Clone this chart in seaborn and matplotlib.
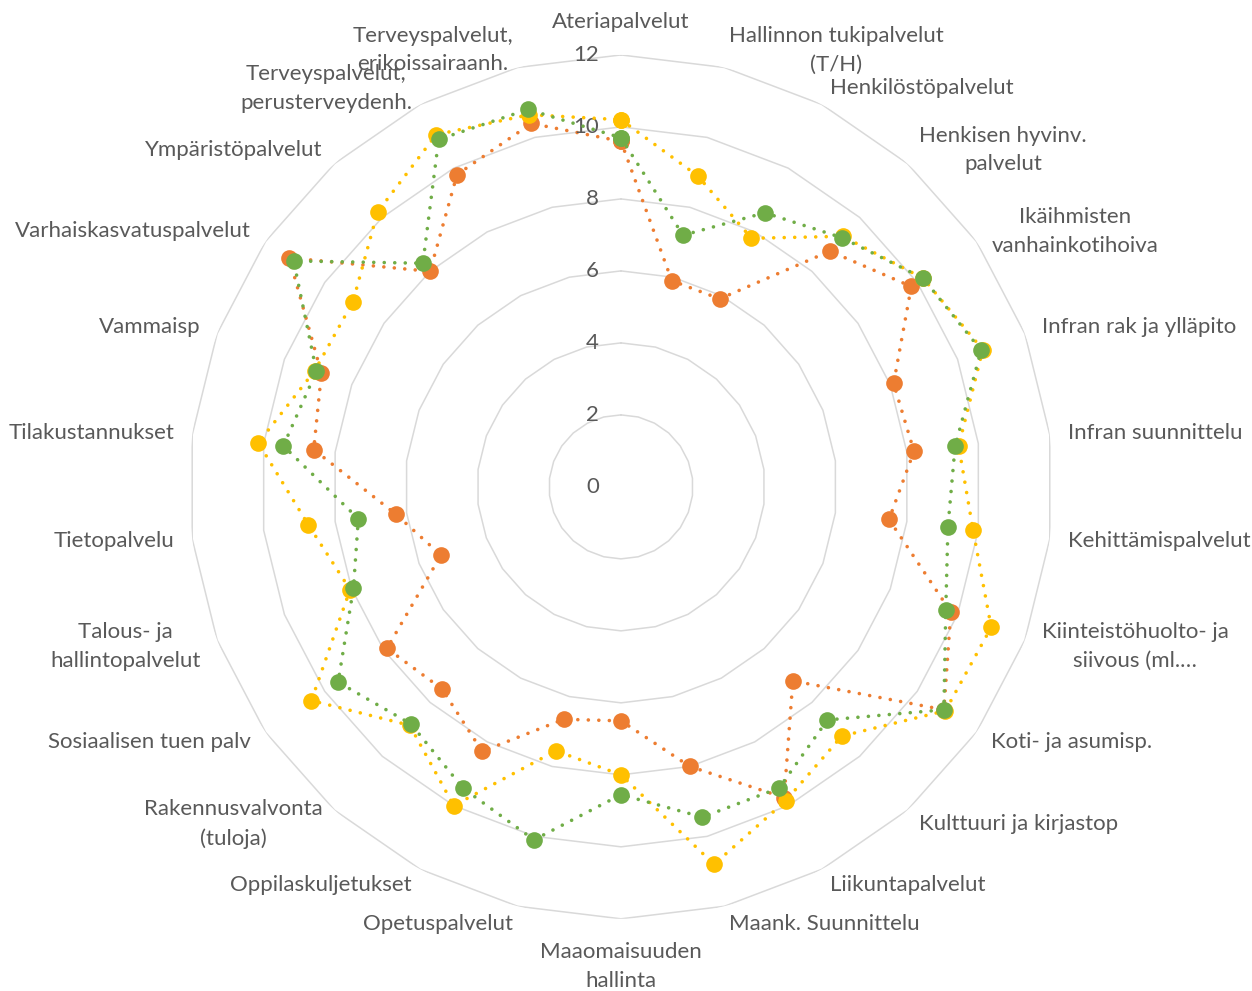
import numpy as np
import pandas as pd
import matplotlib
matplotlib.use('Agg')
import matplotlib.pyplot as plt
import seaborn as sns
from matplotlib.transforms import offset_copy

# categories clockwise from the top
categories = [
    'Ateriapalvelut', 'Hallinnon tukipalvelut\n(T/H)', 'Henkilöstöpalvelut',
    'Henkisen hyvinv.\npalvelut', 'Ikäihmisten\nvanhainkotihoiva',
    'Infran rak ja ylläpito', 'Infran suunnittelu', 'Kehittämispalvelut',
    'Kiinteistöhuolto- ja\nsiivous (ml.…', 'Koti- ja asumisp.',
    'Kulttuuri ja kirjastop', 'Liikuntapalvelut', 'Maank. Suunnittelu',
    'Maaomaisuuden\nhallinta', 'Opetuspalvelut', 'Oppilaskuljetukset',
    'Rakennusvalvonta\n(tuloja)', 'Sosiaalisen tuen palv',
    'Talous- ja\nhallintopalvelut', 'Tietopalvelu', 'Tilakustannukset',
    'Vammaisp', 'Varhaiskasvatuspalvelut', 'Ympäristöpalvelut',
    'Terveyspalvelut,\nperusterveydenh.', 'Terveyspalvelut,\nerikoissairaanh.',
]

orange_vals = [9.6, 5.9, 5.9, 8.75, 9.8, 8.1, 8.2, 7.5, 9.8, 10.9, 7.2, 9.75, 8.0,
               6.5, 6.65, 8.3, 7.5, 7.9, 5.35, 6.3, 8.6, 8.9, 11.2, 8.0, 9.8, 10.4]
yellow_vals = [10.2, 8.9, 7.8, 9.3, 10.2, 10.75, 9.45, 9.85, 11.0, 10.95, 9.25, 9.85, 10.8,
               8.0, 7.55, 10.0, 8.85, 10.45, 8.05, 8.75, 10.15, 9.1, 9.05, 10.2, 11.05, 10.65]
green_vals = [9.7, 7.2, 8.6, 9.25, 10.2, 10.7, 9.35, 9.15, 9.65, 10.9, 8.65, 9.45, 9.45,
              8.55, 10.1, 9.45, 8.8, 9.55, 7.95, 7.35, 9.45, 9.05, 11.05, 8.3, 10.9, 10.8]

ring_ticks = [0, 2, 4, 6, 8, 10, 12]

series = [('orange', orange_vals, '#ED7D31'),
          ('yellow', yellow_vals, '#FFC000'),
          ('green', green_vals, '#70AD47')]

sns.set_style('white')
plt.rcParams['font.family'] = ['Lato', 'DejaVu Sans']
text_color = '#595959'
fs = 16

fig = plt.figure(figsize=(12.52, 9.91), dpi=100)
ax = fig.add_axes([0.151, 0.0727, 0.690, 0.872], projection='polar')
ax.set_theta_zero_location('N')
ax.set_theta_direction(-1)

n = len(categories)
theta = np.arange(n) * 2 * np.pi / n
theta_closed = np.append(theta, theta[0])

# polygon gridlines
for v in ring_ticks[1:]:
    ax.plot(theta_closed, [v] * (n + 1), color='#D9D9D9', lw=1.1, zorder=1)

# data series, dotted with round markers
for i, (name, vals, color) in enumerate(series):
    df = pd.DataFrame({'theta': theta_closed, 'value': np.append(vals, vals[0])})
    sns.lineplot(data=df, x='theta', y='value', ax=ax, sort=False, estimator=None,
                 color=color, lw=2.6, linestyle=(0, (0.01, 2.9)),
                 dash_capstyle='round', marker='o', markersize=12,
                 markeredgewidth=0, zorder=3 + i)

ax.set_xlabel('')
ax.set_ylabel('')
ax.set_ylim(0, 12)
ax.set_xticks([])
ax.set_yticks([])
ax.grid(False)
ax.spines['polar'].set_visible(False)

# value labels left of the vertical axis
tick_tr = offset_copy(ax.transData, fig=fig, x=-22, y=0, units='dots')
for v in ring_ticks:
    ax.text(0, v, str(v), transform=tick_tr, ha='right', va='center',
            fontsize=fs, color=text_color)

# category labels
for t, lab in zip(theta, categories):
    s, c = np.sin(t), np.cos(t)
    r = 12.5
    if abs(s) < 0.05:
        ha = 'center'
        va = 'bottom' if c > 0 else 'top'
        r = 12.65
    else:
        ha = 'left' if s > 0 else 'right'
        va = 'center'
    ax.text(t, r, lab, ha=ha, va=va, multialignment='center', linespacing=1.55,
            fontsize=fs, color=text_color)

fig.savefig('out.png', dpi=100)
